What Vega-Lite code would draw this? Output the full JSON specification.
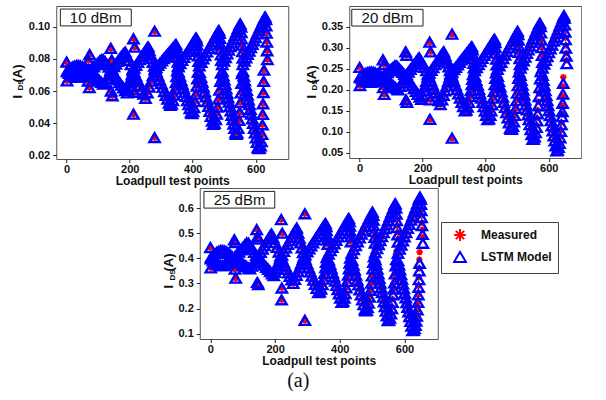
{
  "$schema": "https://vega.github.io/schema/vega-lite/v6.json",
  "background": "white",
  "padding": {"left": 10, "top": 5, "right": 0, "bottom": 0},
  "config": {
    "view": {"stroke": "#555", "strokeWidth": 1},
    "font": "Liberation Sans",
    "axis": {"labelFont": "Liberation Sans", "labelFontWeight": "bold", "labelFontSize": 11, "labelColor": "#111", "tickColor": "#222", "tickSize": 3.5, "domain": false, "grid": false, "titleFont": "Liberation Sans", "titleFontWeight": "bold", "titleColor": "#111", "titleFontSize": 12, "labelPadding": 1, "titlePadding": 1},
    "legend": {"orient": "none", "legendX": 385, "legendY": 216, "strokeColor": "#444", "strokeWidth": 1, "fillColor": "white", "padding": 6, "labelFont": "Liberation Sans", "labelFontWeight": "bold", "labelFontSize": 12, "labelColor": "#111", "symbolSize": 140, "symbolStrokeWidth": 2, "labelOffset": 14, "rowPadding": 2, "symbolOffset": 6}
  },
  "title": {"text": "(a)", "orient": "bottom", "anchor": "middle", "font": "Liberation Serif", "fontSize": 20, "fontWeight": "normal", "color": "#111", "offset": 4, "dx": 2},
  "datasets": {
    "p10": [
      {"x":0,"y":0.0780,"m":0.0780},{"x":1,"y":0.0663,"m":0.0663},
      {"x":2,"y":0.0725,"m":0.0725},{"x":8,"y":0.0734,"m":0.0734},{"x":14,"y":0.0743,"m":0.0743},{"x":20,"y":0.0750,"m":0.0750},{"x":26,"y":0.0755,"m":0.0755},{"x":32,"y":0.0758,"m":0.0758},{"x":38,"y":0.0758,"m":0.0758},{"x":44,"y":0.0755,"m":0.0755},{"x":50,"y":0.0751,"m":0.0751},{"x":56,"y":0.0744,"m":0.0744},{"x":62,"y":0.0736,"m":0.0736},{"x":68,"y":0.0727,"m":0.0727},
      {"x":2,"y":0.0719,"m":0.0719},{"x":8,"y":0.0710,"m":0.0710},{"x":14,"y":0.0701,"m":0.0701},{"x":20,"y":0.0694,"m":0.0694},{"x":26,"y":0.0689,"m":0.0689},{"x":32,"y":0.0686,"m":0.0686},{"x":38,"y":0.0686,"m":0.0686},{"x":44,"y":0.0689,"m":0.0689},{"x":50,"y":0.0693,"m":0.0693},{"x":56,"y":0.0700,"m":0.0700},{"x":62,"y":0.0708,"m":0.0708},{"x":68,"y":0.0717,"m":0.0717},
      {"x":69,"y":0.0790,"m":0.0790},{"x":73,"y":0.0827,"m":0.0827},{"x":68,"y":0.0662,"m":0.0662},{"x":72,"y":0.0621,"m":0.0621},
      {"x":74,"y":0.0729,"m":0.0729},{"x":80,"y":0.0740,"m":0.0740},{"x":86,"y":0.0751,"m":0.0751},{"x":92,"y":0.0762,"m":0.0762},{"x":98,"y":0.0773,"m":0.0773},{"x":104,"y":0.0784,"m":0.0784},{"x":110,"y":0.0794,"m":0.0794},{"x":116,"y":0.0796,"m":0.0796},{"x":122,"y":0.0781,"m":0.0781},{"x":128,"y":0.0766,"m":0.0766},{"x":134,"y":0.0748,"m":0.0748},{"x":140,"y":0.0731,"m":0.0731},
      {"x":74,"y":0.0719,"m":0.0719},{"x":80,"y":0.0708,"m":0.0708},{"x":86,"y":0.0698,"m":0.0698},{"x":92,"y":0.0687,"m":0.0687},{"x":98,"y":0.0676,"m":0.0676},{"x":104,"y":0.0665,"m":0.0665},{"x":110,"y":0.0654,"m":0.0654},{"x":116,"y":0.0643,"m":0.0643},{"x":122,"y":0.0652,"m":0.0652},{"x":128,"y":0.0675,"m":0.0675},{"x":134,"y":0.0698,"m":0.0698},{"x":140,"y":0.0724,"m":0.0724},
      {"x":140,"y":0.0866,"m":0.0866},{"x":143,"y":0.0792,"m":0.0792},{"x":141,"y":0.0600,"m":0.0600},{"x":145,"y":0.0570,"m":0.0570},
      {"x":144,"y":0.0736,"m":0.0736},{"x":150,"y":0.0752,"m":0.0752},{"x":156,"y":0.0768,"m":0.0768},{"x":162,"y":0.0784,"m":0.0784},{"x":168,"y":0.0800,"m":0.0800},{"x":174,"y":0.0816,"m":0.0816},{"x":180,"y":0.0832,"m":0.0832},{"x":186,"y":0.0842,"m":0.0842},{"x":192,"y":0.0816,"m":0.0816},{"x":198,"y":0.0790,"m":0.0790},{"x":204,"y":0.0764,"m":0.0764},{"x":210,"y":0.0737,"m":0.0737},
      {"x":144,"y":0.0720,"m":0.0720},{"x":150,"y":0.0703,"m":0.0703},{"x":156,"y":0.0686,"m":0.0686},{"x":162,"y":0.0670,"m":0.0670},{"x":168,"y":0.0653,"m":0.0653},{"x":174,"y":0.0636,"m":0.0636},{"x":180,"y":0.0620,"m":0.0620},{"x":186,"y":0.0603,"m":0.0603},{"x":192,"y":0.0588,"m":0.0588},{"x":195,"y":0.0605,"m":0.0605},{"x":198,"y":0.0630,"m":0.0630},{"x":201,"y":0.0652,"m":0.0652},{"x":204,"y":0.0676,"m":0.0676},{"x":207,"y":0.0700,"m":0.0700},{"x":210,"y":0.0725,"m":0.0725},
      {"x":212,"y":0.0925,"m":0.0925},{"x":216,"y":0.0873,"m":0.0873},{"x":214,"y":0.0592,"m":0.0592},{"x":212,"y":0.0456,"m":0.0456},
      {"x":214,"y":0.0742,"m":0.0742},{"x":220,"y":0.0760,"m":0.0760},{"x":226,"y":0.0778,"m":0.0778},{"x":232,"y":0.0796,"m":0.0796},{"x":238,"y":0.0814,"m":0.0814},{"x":244,"y":0.0833,"m":0.0833},{"x":250,"y":0.0851,"m":0.0851},{"x":256,"y":0.0869,"m":0.0869},{"x":259,"y":0.0874,"m":0.0874},{"x":262,"y":0.0851,"m":0.0851},{"x":266,"y":0.0827,"m":0.0827},{"x":270,"y":0.0803,"m":0.0803},{"x":274,"y":0.0779,"m":0.0779},{"x":278,"y":0.0755,"m":0.0755},{"x":281,"y":0.0740,"m":0.0740},
      {"x":214,"y":0.0719,"m":0.0719},{"x":220,"y":0.0692,"m":0.0692},{"x":226,"y":0.0664,"m":0.0664},{"x":232,"y":0.0636,"m":0.0636},{"x":238,"y":0.0608,"m":0.0608},{"x":244,"y":0.0581,"m":0.0581},{"x":250,"y":0.0555,"m":0.0555},{"x":256,"y":0.0589,"m":0.0589},{"x":262,"y":0.0625,"m":0.0625},{"x":268,"y":0.0661,"m":0.0661},{"x":274,"y":0.0696,"m":0.0696},{"x":280,"y":0.0732,"m":0.0732},
      {"x":279,"y":0.0972,"m":0.0972},{"x":279,"y":0.0310,"m":0.0310},
      {"x":284,"y":0.0745,"m":0.0745},{"x":290,"y":0.0759,"m":0.0759},{"x":296,"y":0.0773,"m":0.0773},{"x":302,"y":0.0787,"m":0.0787},{"x":308,"y":0.0801,"m":0.0801},{"x":314,"y":0.0815,"m":0.0815},{"x":320,"y":0.0829,"m":0.0829},{"x":326,"y":0.0843,"m":0.0843},{"x":332,"y":0.0857,"m":0.0857},{"x":338,"y":0.0871,"m":0.0871},{"x":344,"y":0.0885,"m":0.0885},{"x":347,"y":0.0889,"m":0.0889},
      {"x":349,"y":0.0868,"m":0.0868},{"x":350,"y":0.0840,"m":0.0840},{"x":351,"y":0.0810,"m":0.0810},{"x":353,"y":0.0780,"m":0.0780},{"x":354,"y":0.0752,"m":0.0752},
      {"x":285,"y":0.0719,"m":0.0719},{"x":290,"y":0.0694,"m":0.0694},{"x":295,"y":0.0670,"m":0.0670},{"x":300,"y":0.0646,"m":0.0646},{"x":305,"y":0.0622,"m":0.0622},{"x":310,"y":0.0597,"m":0.0597},{"x":315,"y":0.0573,"m":0.0573},{"x":320,"y":0.0549,"m":0.0549},{"x":325,"y":0.0525,"m":0.0525},{"x":329,"y":0.0511,"m":0.0511},
      {"x":333,"y":0.0518,"m":0.0518},{"x":337,"y":0.0540,"m":0.0540},{"x":341,"y":0.0575,"m":0.0575},{"x":344,"y":0.0612,"m":0.0612},{"x":347,"y":0.0652,"m":0.0652},{"x":349,"y":0.0690,"m":0.0690},{"x":351,"y":0.0725,"m":0.0725},
      {"x":354,"y":0.0752,"m":0.0752},{"x":360,"y":0.0771,"m":0.0771},{"x":366,"y":0.0790,"m":0.0790},{"x":372,"y":0.0809,"m":0.0809},{"x":378,"y":0.0828,"m":0.0828},{"x":384,"y":0.0847,"m":0.0847},{"x":390,"y":0.0866,"m":0.0866},{"x":396,"y":0.0885,"m":0.0885},{"x":402,"y":0.0904,"m":0.0904},{"x":408,"y":0.0924,"m":0.0924},{"x":411,"y":0.0930,"m":0.0930},
      {"x":413,"y":0.0912,"m":0.0912},{"x":414,"y":0.0885,"m":0.0885},{"x":416,"y":0.0852,"m":0.0852},{"x":417,"y":0.0818,"m":0.0818},{"x":419,"y":0.0784,"m":0.0784},
      {"x":355,"y":0.0717,"m":0.0717},{"x":359,"y":0.0692,"m":0.0692},{"x":363,"y":0.0667,"m":0.0667},{"x":367,"y":0.0642,"m":0.0642},{"x":371,"y":0.0617,"m":0.0617},{"x":375,"y":0.0591,"m":0.0591},{"x":379,"y":0.0566,"m":0.0566},{"x":383,"y":0.0541,"m":0.0541},{"x":387,"y":0.0516,"m":0.0516},{"x":391,"y":0.0491,"m":0.0491},{"x":395,"y":0.0466,"m":0.0466},{"x":398,"y":0.0460,"m":0.0460},
      {"x":401,"y":0.0472,"m":0.0472},{"x":404,"y":0.0497,"m":0.0497},{"x":407,"y":0.0535,"m":0.0535},{"x":410,"y":0.0580,"m":0.0580},{"x":413,"y":0.0630,"m":0.0630},{"x":415,"y":0.0675,"m":0.0675},{"x":417,"y":0.0718,"m":0.0718},
      {"x":421,"y":0.0757,"m":0.0757},{"x":427,"y":0.0778,"m":0.0778},{"x":433,"y":0.0800,"m":0.0800},{"x":439,"y":0.0821,"m":0.0821},{"x":445,"y":0.0843,"m":0.0843},{"x":451,"y":0.0865,"m":0.0865},{"x":457,"y":0.0886,"m":0.0886},{"x":463,"y":0.0908,"m":0.0908},{"x":469,"y":0.0929,"m":0.0929},{"x":475,"y":0.0951,"m":0.0951},{"x":481,"y":0.0972,"m":0.0972},{"x":483,"y":0.0976,"m":0.0976},
      {"x":485,"y":0.0958,"m":0.0958},{"x":486,"y":0.0928,"m":0.0928},{"x":487,"y":0.0895,"m":0.0895},{"x":488,"y":0.0860,"m":0.0860},{"x":490,"y":0.0825,"m":0.0825},{"x":491,"y":0.0790,"m":0.0790},
      {"x":422,"y":0.0716,"m":0.0716},{"x":426,"y":0.0685,"m":0.0685},{"x":430,"y":0.0655,"m":0.0655},{"x":434,"y":0.0625,"m":0.0625},{"x":438,"y":0.0594,"m":0.0594},{"x":442,"y":0.0564,"m":0.0564},{"x":446,"y":0.0534,"m":0.0534},{"x":450,"y":0.0504,"m":0.0504},{"x":454,"y":0.0473,"m":0.0473},{"x":458,"y":0.0443,"m":0.0443},{"x":462,"y":0.0413,"m":0.0413},{"x":465,"y":0.0392,"m":0.0392},
      {"x":469,"y":0.0398,"m":0.0398},{"x":473,"y":0.0422,"m":0.0422},{"x":476,"y":0.0457,"m":0.0457},{"x":479,"y":0.0500,"m":0.0500},{"x":482,"y":0.0550,"m":0.0550},{"x":485,"y":0.0605,"m":0.0605},{"x":488,"y":0.0660,"m":0.0660},{"x":490,"y":0.0712,"m":0.0712},
      {"x":494,"y":0.0764,"m":0.0764},{"x":499,"y":0.0786,"m":0.0786},{"x":504,"y":0.0808,"m":0.0808},{"x":509,"y":0.0831,"m":0.0831},{"x":514,"y":0.0854,"m":0.0854},{"x":519,"y":0.0877,"m":0.0877},{"x":524,"y":0.0899,"m":0.0899},{"x":529,"y":0.0922,"m":0.0922},{"x":534,"y":0.0944,"m":0.0944},{"x":539,"y":0.0967,"m":0.0967},{"x":544,"y":0.0990,"m":0.0990},{"x":549,"y":0.1012,"m":0.1012},{"x":551,"y":0.1017,"m":0.1017},
      {"x":553,"y":0.0998,"m":0.0998},{"x":554,"y":0.0963,"m":0.0963},{"x":555,"y":0.0925,"m":0.0925},{"x":556,"y":0.0885,"m":0.0885},{"x":558,"y":0.0845,"m":0.0845},{"x":559,"y":0.0805,"m":0.0805},
      {"x":494,"y":0.0723,"m":0.0723},{"x":497,"y":0.0695,"m":0.0695},{"x":500,"y":0.0668,"m":0.0668},{"x":503,"y":0.0641,"m":0.0641},{"x":506,"y":0.0613,"m":0.0613},{"x":509,"y":0.0586,"m":0.0586},{"x":512,"y":0.0559,"m":0.0559},{"x":515,"y":0.0531,"m":0.0531},{"x":518,"y":0.0504,"m":0.0504},{"x":521,"y":0.0476,"m":0.0476},{"x":524,"y":0.0449,"m":0.0449},{"x":527,"y":0.0422,"m":0.0422},{"x":530,"y":0.0394,"m":0.0394},{"x":533,"y":0.0367,"m":0.0367},{"x":536,"y":0.0340,"m":0.0340},{"x":538,"y":0.0331,"m":0.0331},
      {"x":541,"y":0.0338,"m":0.0338},{"x":544,"y":0.0368,"m":0.0368},{"x":547,"y":0.0418,"m":0.0418},{"x":549,"y":0.0468,"m":0.0468},{"x":551,"y":0.0528,"m":0.0528},{"x":553,"y":0.0588,"m":0.0588},{"x":555,"y":0.0648,"m":0.0648},{"x":557,"y":0.0708,"m":0.0708},
      {"x":559,"y":0.0765,"m":0.0765},{"x":564,"y":0.0786,"m":0.0786},{"x":569,"y":0.0807,"m":0.0807},{"x":574,"y":0.0828,"m":0.0828},{"x":579,"y":0.0849,"m":0.0849},{"x":584,"y":0.0870,"m":0.0870},{"x":589,"y":0.0891,"m":0.0891},{"x":594,"y":0.0912,"m":0.0912},{"x":599,"y":0.0933,"m":0.0933},{"x":604,"y":0.0955,"m":0.0955},{"x":609,"y":0.0976,"m":0.0976},{"x":614,"y":0.0997,"m":0.0997},{"x":619,"y":0.1018,"m":0.1018},{"x":624,"y":0.1039,"m":0.1039},{"x":628,"y":0.1055,"m":0.1055},{"x":630,"y":0.1060,"m":0.1060},
      {"x":632,"y":0.1045,"m":0.1045},{"x":633,"y":0.1005,"m":0.1005},{"x":634,"y":0.0960,"m":0.0960},{"x":635,"y":0.0905,"m":0.0905},{"x":636,"y":0.0850,"m":0.0850},{"x":637,"y":0.0795,"m":0.0795},
      {"x":559,"y":0.0722,"m":0.0722},{"x":562,"y":0.0693,"m":0.0693},{"x":565,"y":0.0663,"m":0.0663},{"x":568,"y":0.0634,"m":0.0634},{"x":571,"y":0.0604,"m":0.0604},{"x":574,"y":0.0575,"m":0.0575},{"x":577,"y":0.0545,"m":0.0545},{"x":580,"y":0.0516,"m":0.0516},{"x":583,"y":0.0486,"m":0.0486},{"x":586,"y":0.0457,"m":0.0457},{"x":589,"y":0.0427,"m":0.0427},{"x":592,"y":0.0398,"m":0.0398},{"x":595,"y":0.0368,"m":0.0368},{"x":598,"y":0.0339,"m":0.0339},{"x":601,"y":0.0309,"m":0.0309},{"x":604,"y":0.0280,"m":0.0280},{"x":607,"y":0.0250,"m":0.0250},{"x":609,"y":0.0241,"m":0.0241},
      {"x":612,"y":0.0244,"m":0.0244},{"x":615,"y":0.0258,"m":0.0258},{"x":618,"y":0.0285,"m":0.0285},{"x":620,"y":0.0330,"m":0.0330},{"x":621,"y":0.0390,"m":0.0390},{"x":622,"y":0.0455,"m":0.0455},{"x":623,"y":0.0520,"m":0.0520},{"x":624,"y":0.0590,"m":0.0590},{"x":625,"y":0.0660,"m":0.0660},{"x":626,"y":0.0730,"m":0.0730}
    ],
    "p20": [
      {"x":0,"y":0.253,"m":0.253},{"x":1,"y":0.210,"m":0.210},
      {"x":2,"y":0.2311,"m":0.2311},{"x":8,"y":0.2342,"m":0.2342},{"x":14,"y":0.2370,"m":0.2370},{"x":20,"y":0.2393,"m":0.2393},{"x":26,"y":0.2410,"m":0.2410},{"x":32,"y":0.2419,"m":0.2419},{"x":38,"y":0.2419,"m":0.2419},{"x":44,"y":0.2412,"m":0.2412},{"x":50,"y":0.2396,"m":0.2396},{"x":56,"y":0.2374,"m":0.2374},{"x":62,"y":0.2347,"m":0.2347},{"x":68,"y":0.2316,"m":0.2316},
      {"x":2,"y":0.2289,"m":0.2289},{"x":8,"y":0.2258,"m":0.2258},{"x":14,"y":0.2230,"m":0.2230},{"x":20,"y":0.2207,"m":0.2207},{"x":26,"y":0.2190,"m":0.2190},{"x":32,"y":0.2181,"m":0.2181},{"x":38,"y":0.2181,"m":0.2181},{"x":44,"y":0.2188,"m":0.2188},{"x":50,"y":0.2204,"m":0.2204},{"x":56,"y":0.2226,"m":0.2226},{"x":62,"y":0.2253,"m":0.2253},{"x":68,"y":0.2284,"m":0.2284},
      {"x":74,"y":0.271,"m":0.271},{"x":77,"y":0.260,"m":0.260},{"x":75,"y":0.205,"m":0.205},{"x":78,"y":0.189,"m":0.189},
      {"x":76,"y":0.2330,"m":0.2330},{"x":82,"y":0.2370,"m":0.2370},{"x":88,"y":0.2410,"m":0.2410},{"x":94,"y":0.2450,"m":0.2450},{"x":100,"y":0.2490,"m":0.2490},{"x":106,"y":0.2530,"m":0.2530},{"x":112,"y":0.2570,"m":0.2570},{"x":118,"y":0.2565,"m":0.2565},{"x":124,"y":0.2514,"m":0.2514},{"x":130,"y":0.2464,"m":0.2464},{"x":136,"y":0.2414,"m":0.2414},{"x":142,"y":0.2364,"m":0.2364},
      {"x":76,"y":0.2291,"m":0.2291},{"x":82,"y":0.2253,"m":0.2253},{"x":88,"y":0.2215,"m":0.2215},{"x":94,"y":0.2177,"m":0.2177},{"x":100,"y":0.2139,"m":0.2139},{"x":106,"y":0.2101,"m":0.2101},{"x":112,"y":0.2063,"m":0.2063},{"x":118,"y":0.2025,"m":0.2025},{"x":122,"y":0.2000,"m":0.2000},{"x":128,"y":0.2083,"m":0.2083},{"x":134,"y":0.2165,"m":0.2165},{"x":140,"y":0.2248,"m":0.2248},{"x":145,"y":0.2316,"m":0.2316},
      {"x":146,"y":0.290,"m":0.290},{"x":149,"y":0.282,"m":0.282},{"x":147,"y":0.176,"m":0.176},{"x":150,"y":0.170,"m":0.170},
      {"x":149,"y":0.2361,"m":0.2361},{"x":155,"y":0.2422,"m":0.2422},{"x":161,"y":0.2484,"m":0.2484},{"x":167,"y":0.2545,"m":0.2545},{"x":173,"y":0.2607,"m":0.2607},{"x":179,"y":0.2668,"m":0.2668},{"x":185,"y":0.2729,"m":0.2729},{"x":189,"y":0.2758,"m":0.2758},{"x":194,"y":0.2694,"m":0.2694},{"x":200,"y":0.2614,"m":0.2614},{"x":206,"y":0.2534,"m":0.2534},{"x":212,"y":0.2454,"m":0.2454},{"x":217,"y":0.2374,"m":0.2374},
      {"x":149,"y":0.2296,"m":0.2296},{"x":155,"y":0.2229,"m":0.2229},{"x":161,"y":0.2162,"m":0.2162},{"x":167,"y":0.2095,"m":0.2095},{"x":173,"y":0.2028,"m":0.2028},{"x":179,"y":0.1960,"m":0.1960},{"x":185,"y":0.1893,"m":0.1893},{"x":191,"y":0.1826,"m":0.1826},{"x":196,"y":0.1770,"m":0.1770},{"x":200,"y":0.1877,"m":0.1877},{"x":204,"y":0.1984,"m":0.1984},{"x":208,"y":0.2091,"m":0.2091},{"x":212,"y":0.2199,"m":0.2199},{"x":216,"y":0.2306,"m":0.2306},
      {"x":222,"y":0.313,"m":0.313},{"x":225,"y":0.290,"m":0.290},{"x":224,"y":0.176,"m":0.176},{"x":223,"y":0.130,"m":0.130},
      {"x":221,"y":0.2394,"m":0.2394},{"x":227,"y":0.2461,"m":0.2461},{"x":233,"y":0.2529,"m":0.2529},{"x":239,"y":0.2596,"m":0.2596},{"x":245,"y":0.2664,"m":0.2664},{"x":251,"y":0.2731,"m":0.2731},{"x":257,"y":0.2799,"m":0.2799},{"x":263,"y":0.2866,"m":0.2866},{"x":267,"y":0.2900,"m":0.2900},{"x":271,"y":0.2811,"m":0.2811},{"x":275,"y":0.2722,"m":0.2722},{"x":279,"y":0.2633,"m":0.2633},{"x":283,"y":0.2544,"m":0.2544},{"x":287,"y":0.2456,"m":0.2456},{"x":290,"y":0.2390,"m":0.2390},
      {"x":221,"y":0.2304,"m":0.2304},{"x":226,"y":0.2210,"m":0.2210},{"x":231,"y":0.2117,"m":0.2117},{"x":236,"y":0.2024,"m":0.2024},{"x":241,"y":0.1930,"m":0.1930},{"x":246,"y":0.1837,"m":0.1837},{"x":251,"y":0.1743,"m":0.1743},{"x":256,"y":0.1650,"m":0.1650},{"x":261,"y":0.1759,"m":0.1759},{"x":266,"y":0.1868,"m":0.1868},{"x":271,"y":0.1977,"m":0.1977},{"x":276,"y":0.2086,"m":0.2086},{"x":281,"y":0.2195,"m":0.2195},{"x":286,"y":0.2304,"m":0.2304},{"x":289,"y":0.2369,"m":0.2369},
      {"x":293,"y":0.332,"m":0.332},{"x":293,"y":0.085,"m":0.085},
      {"x":293,"y":0.2419,"m":0.2419},{"x":299,"y":0.2477,"m":0.2477},{"x":305,"y":0.2535,"m":0.2535},{"x":311,"y":0.2593,"m":0.2593},{"x":317,"y":0.2651,"m":0.2651},{"x":323,"y":0.2710,"m":0.2710},{"x":329,"y":0.2768,"m":0.2768},{"x":335,"y":0.2826,"m":0.2826},{"x":341,"y":0.2884,"m":0.2884},{"x":347,"y":0.2942,"m":0.2942},{"x":353,"y":0.3000,"m":0.3000},{"x":356,"y":0.3020,"m":0.3020},
      {"x":358,"y":0.2950,"m":0.2950},{"x":359,"y":0.2850,"m":0.2850},{"x":360,"y":0.2740,"m":0.2740},{"x":362,"y":0.2630,"m":0.2630},{"x":363,"y":0.2520,"m":0.2520},
      {"x":294,"y":0.2309,"m":0.2309},{"x":299,"y":0.2208,"m":0.2208},{"x":304,"y":0.2107,"m":0.2107},{"x":309,"y":0.2006,"m":0.2006},{"x":314,"y":0.1905,"m":0.1905},{"x":319,"y":0.1803,"m":0.1803},{"x":324,"y":0.1702,"m":0.1702},{"x":329,"y":0.1601,"m":0.1601},{"x":334,"y":0.1500,"m":0.1500},
      {"x":338,"y":0.1520,"m":0.1520},{"x":342,"y":0.1590,"m":0.1590},{"x":346,"y":0.1700,"m":0.1700},{"x":350,"y":0.1840,"m":0.1840},{"x":353,"y":0.1980,"m":0.1980},{"x":356,"y":0.2120,"m":0.2120},{"x":358,"y":0.2250,"m":0.2250},{"x":360,"y":0.2360,"m":0.2360},
      {"x":365,"y":0.2456,"m":0.2456},{"x":371,"y":0.2528,"m":0.2528},{"x":377,"y":0.2600,"m":0.2600},{"x":383,"y":0.2672,"m":0.2672},{"x":389,"y":0.2744,"m":0.2744},{"x":395,"y":0.2816,"m":0.2816},{"x":401,"y":0.2888,"m":0.2888},{"x":407,"y":0.2960,"m":0.2960},{"x":413,"y":0.3032,"m":0.3032},{"x":419,"y":0.3104,"m":0.3104},{"x":425,"y":0.3176,"m":0.3176},{"x":428,"y":0.3200,"m":0.3200},
      {"x":430,"y":0.3120,"m":0.3120},{"x":431,"y":0.3000,"m":0.3000},{"x":432,"y":0.2870,"m":0.2870},{"x":434,"y":0.2730,"m":0.2730},{"x":435,"y":0.2590,"m":0.2590},
      {"x":366,"y":0.2317,"m":0.2317},{"x":370,"y":0.2215,"m":0.2215},{"x":374,"y":0.2112,"m":0.2112},{"x":378,"y":0.2009,"m":0.2009},{"x":382,"y":0.1907,"m":0.1907},{"x":386,"y":0.1804,"m":0.1804},{"x":390,"y":0.1701,"m":0.1701},{"x":394,"y":0.1598,"m":0.1598},{"x":398,"y":0.1496,"m":0.1496},{"x":402,"y":0.1393,"m":0.1393},{"x":406,"y":0.1290,"m":0.1290},
      {"x":410,"y":0.1310,"m":0.1310},{"x":414,"y":0.1390,"m":0.1390},{"x":417,"y":0.1500,"m":0.1500},{"x":420,"y":0.1640,"m":0.1640},{"x":423,"y":0.1800,"m":0.1800},{"x":426,"y":0.1960,"m":0.1960},{"x":429,"y":0.2120,"m":0.2120},{"x":431,"y":0.2270,"m":0.2270},{"x":433,"y":0.2400,"m":0.2400},
      {"x":437,"y":0.2483,"m":0.2483},{"x":443,"y":0.2568,"m":0.2568},{"x":449,"y":0.2653,"m":0.2653},{"x":455,"y":0.2738,"m":0.2738},{"x":461,"y":0.2823,"m":0.2823},{"x":467,"y":0.2908,"m":0.2908},{"x":473,"y":0.2993,"m":0.2993},{"x":479,"y":0.3078,"m":0.3078},{"x":485,"y":0.3163,"m":0.3163},{"x":491,"y":0.3248,"m":0.3248},{"x":497,"y":0.3333,"m":0.3333},{"x":501,"y":0.3390,"m":0.3390},
      {"x":503,"y":0.3310,"m":0.3310},{"x":504,"y":0.3180,"m":0.3180},{"x":505,"y":0.3040,"m":0.3040},{"x":506,"y":0.2890,"m":0.2890},{"x":508,"y":0.2740,"m":0.2740},{"x":509,"y":0.2600,"m":0.2600},
      {"x":438,"y":0.2317,"m":0.2317},{"x":442,"y":0.2195,"m":0.2195},{"x":446,"y":0.2072,"m":0.2072},{"x":450,"y":0.1949,"m":0.1949},{"x":454,"y":0.1827,"m":0.1827},{"x":458,"y":0.1704,"m":0.1704},{"x":462,"y":0.1581,"m":0.1581},{"x":466,"y":0.1459,"m":0.1459},{"x":470,"y":0.1336,"m":0.1336},{"x":474,"y":0.1213,"m":0.1213},{"x":478,"y":0.1091,"m":0.1091},{"x":480,"y":0.1060,"m":0.1060},
      {"x":483,"y":0.1070,"m":0.1070},{"x":486,"y":0.1130,"m":0.1130},{"x":489,"y":0.1240,"m":0.1240},{"x":492,"y":0.1390,"m":0.1390},{"x":495,"y":0.1560,"m":0.1560},{"x":498,"y":0.1740,"m":0.1740},{"x":500,"y":0.1920,"m":0.1920},{"x":502,"y":0.2100,"m":0.2100},{"x":504,"y":0.2270,"m":0.2270},{"x":506,"y":0.2420,"m":0.2420},
      {"x":510,"y":0.2513,"m":0.2513},{"x":515,"y":0.2600,"m":0.2600},{"x":520,"y":0.2688,"m":0.2688},{"x":525,"y":0.2775,"m":0.2775},{"x":530,"y":0.2863,"m":0.2863},{"x":535,"y":0.2950,"m":0.2950},{"x":540,"y":0.3038,"m":0.3038},{"x":545,"y":0.3125,"m":0.3125},{"x":550,"y":0.3213,"m":0.3213},{"x":555,"y":0.3300,"m":0.3300},{"x":560,"y":0.3388,"m":0.3388},{"x":565,"y":0.3475,"m":0.3475},{"x":570,"y":0.3563,"m":0.3563},{"x":572,"y":0.3580,"m":0.3580},
      {"x":574,"y":0.3500,"m":0.3500},{"x":575,"y":0.3350,"m":0.3350},{"x":576,"y":0.3180,"m":0.3180},{"x":577,"y":0.3000,"m":0.3000},{"x":579,"y":0.2820,"m":0.2820},{"x":580,"y":0.2650,"m":0.2650},
      {"x":510,"y":0.2343,"m":0.2343},{"x":513,"y":0.2226,"m":0.2226},{"x":516,"y":0.2109,"m":0.2109},{"x":519,"y":0.1991,"m":0.1991},{"x":522,"y":0.1874,"m":0.1874},{"x":525,"y":0.1757,"m":0.1757},{"x":528,"y":0.1640,"m":0.1640},{"x":531,"y":0.1523,"m":0.1523},{"x":534,"y":0.1406,"m":0.1406},{"x":537,"y":0.1289,"m":0.1289},{"x":540,"y":0.1171,"m":0.1171},{"x":543,"y":0.1054,"m":0.1054},{"x":546,"y":0.0937,"m":0.0937},{"x":549,"y":0.0820,"m":0.0820},
      {"x":552,"y":0.0830,"m":0.0830},{"x":555,"y":0.0890,"m":0.0880},{"x":558,"y":0.1000,"m":0.0980},{"x":561,"y":0.1150,"m":0.1110},{"x":563,"y":0.1330,"m":0.1260},{"x":565,"y":0.1520,"m":0.1430},{"x":567,"y":0.1720,"m":0.1620},{"x":569,"y":0.1920,"m":0.1840},{"x":571,"y":0.2110,"m":0.2050},{"x":573,"y":0.2290,"m":0.2260},{"x":575,"y":0.2430,"m":0.2430},
      {"x":580,"y":0.2515,"m":0.2515},{"x":585,"y":0.2607,"m":0.2607},{"x":590,"y":0.2698,"m":0.2698},{"x":595,"y":0.2790,"m":0.2790},{"x":600,"y":0.2881,"m":0.2881},{"x":605,"y":0.2973,"m":0.2973},{"x":610,"y":0.3064,"m":0.3064},{"x":615,"y":0.3156,"m":0.3156},{"x":620,"y":0.3247,"m":0.3247},{"x":625,"y":0.3339,"m":0.3339},{"x":630,"y":0.3430,"m":0.3430},{"x":635,"y":0.3522,"m":0.3522},{"x":640,"y":0.3613,"m":0.3613},{"x":645,"y":0.3705,"m":0.3705},{"x":648,"y":0.3760,"m":0.3760},
      {"x":650,"y":0.3700,"m":0.3700},{"x":651,"y":0.3560,"m":0.3540},{"x":652,"y":0.3400,"m":0.3370},{"x":653,"y":0.3230,"m":0.3190},{"x":654,"y":0.3050,"m":0.2990},{"x":656,"y":0.2870,"m":0.2800},{"x":657,"y":0.2700,"m":0.2620},
      {"x":580,"y":0.2341,"m":0.2341},{"x":583,"y":0.2221,"m":0.2221},{"x":586,"y":0.2102,"m":0.2102},{"x":589,"y":0.1982,"m":0.1982},{"x":592,"y":0.1863,"m":0.1863},{"x":595,"y":0.1744,"m":0.1744},{"x":598,"y":0.1624,"m":0.1624},{"x":601,"y":0.1505,"m":0.1505},{"x":604,"y":0.1385,"m":0.1385},{"x":607,"y":0.1266,"m":0.1266},{"x":610,"y":0.1146,"m":0.1146},{"x":613,"y":0.1027,"m":0.1027},{"x":616,"y":0.0907,"m":0.0907},{"x":619,"y":0.0788,"m":0.0788},{"x":622,"y":0.0669,"m":0.0669},{"x":625,"y":0.0550,"m":0.0550},
      {"x":628,"y":0.0570,"m":0.0570},{"x":631,"y":0.0630,"m":0.0630},{"x":634,"y":0.0740,"m":0.0730},{"x":636,"y":0.0880,"m":0.0860},{"x":638,"y":0.1040,"m":0.1010},{"x":640,"y":0.1220,"m":0.1170},{"x":642,"y":0.1420,"m":0.1360},{"x":643,"y":0.1630,"m":0.1480},{"x":644,"y":0.1850,"m":0.1680},{"x":645,"y":0.2080,"m":0.1900},{"x":646,"y":0.2300,"m":0.2150}
    ],
    "p25": [
      {"x":0,"y":0.443,"m":0.443},{"x":1,"y":0.362,"m":0.362},
      {"x":2,"y":0.4036,"m":0.4036},{"x":8,"y":0.4114,"m":0.4114},{"x":14,"y":0.4184,"m":0.4184},{"x":20,"y":0.4242,"m":0.4242},{"x":26,"y":0.4284,"m":0.4284},{"x":32,"y":0.4309,"m":0.4309},{"x":38,"y":0.4308,"m":0.4308},{"x":44,"y":0.4289,"m":0.4289},{"x":50,"y":0.4250,"m":0.4250},{"x":56,"y":0.4195,"m":0.4195},{"x":62,"y":0.4127,"m":0.4127},{"x":68,"y":0.4049,"m":0.4049},
      {"x":2,"y":0.3984,"m":0.3984},{"x":8,"y":0.3906,"m":0.3906},{"x":14,"y":0.3836,"m":0.3836},{"x":20,"y":0.3778,"m":0.3778},{"x":26,"y":0.3736,"m":0.3736},{"x":32,"y":0.3711,"m":0.3711},{"x":38,"y":0.3712,"m":0.3712},{"x":44,"y":0.3731,"m":0.3731},{"x":50,"y":0.3770,"m":0.3770},{"x":56,"y":0.3825,"m":0.3825},{"x":62,"y":0.3893,"m":0.3893},{"x":68,"y":0.3971,"m":0.3971},
      {"x":74,"y":0.474,"m":0.474},{"x":77,"y":0.463,"m":0.463},{"x":76,"y":0.357,"m":0.357},{"x":78,"y":0.321,"m":0.321},
      {"x":76,"y":0.4066,"m":0.4066},{"x":82,"y":0.4157,"m":0.4157},{"x":88,"y":0.4249,"m":0.4249},{"x":94,"y":0.4340,"m":0.4340},{"x":100,"y":0.4431,"m":0.4431},{"x":106,"y":0.4523,"m":0.4523},{"x":112,"y":0.4614,"m":0.4614},{"x":118,"y":0.4600,"m":0.4600},{"x":124,"y":0.4480,"m":0.4480},{"x":130,"y":0.4360,"m":0.4360},{"x":136,"y":0.4240,"m":0.4240},{"x":142,"y":0.4120,"m":0.4120},
      {"x":76,"y":0.3993,"m":0.3993},{"x":82,"y":0.3939,"m":0.3939},{"x":88,"y":0.3885,"m":0.3885},{"x":94,"y":0.3831,"m":0.3831},{"x":100,"y":0.3778,"m":0.3778},{"x":106,"y":0.3724,"m":0.3724},{"x":112,"y":0.3670,"m":0.3670},{"x":118,"y":0.3616,"m":0.3616},{"x":122,"y":0.3580,"m":0.3580},{"x":128,"y":0.3695,"m":0.3695},{"x":134,"y":0.3810,"m":0.3810},{"x":140,"y":0.3925,"m":0.3925},{"x":145,"y":0.4021,"m":0.4021},
      {"x":143,"y":0.514,"m":0.514},{"x":146,"y":0.487,"m":0.487},{"x":148,"y":0.477,"m":0.477},{"x":145,"y":0.304,"m":0.304},{"x":148,"y":0.295,"m":0.295},
      {"x":149,"y":0.4106,"m":0.4106},{"x":155,"y":0.4239,"m":0.4239},{"x":161,"y":0.4372,"m":0.4372},{"x":167,"y":0.4505,"m":0.4505},{"x":173,"y":0.4638,"m":0.4638},{"x":179,"y":0.4771,"m":0.4771},{"x":185,"y":0.4903,"m":0.4903},{"x":189,"y":0.4970,"m":0.4970},{"x":194,"y":0.4813,"m":0.4813},{"x":200,"y":0.4625,"m":0.4625},{"x":206,"y":0.4436,"m":0.4436},{"x":212,"y":0.4248,"m":0.4248},{"x":217,"y":0.4091,"m":0.4091},
      {"x":149,"y":0.3996,"m":0.3996},{"x":155,"y":0.3908,"m":0.3908},{"x":161,"y":0.3821,"m":0.3821},{"x":167,"y":0.3733,"m":0.3733},{"x":173,"y":0.3646,"m":0.3646},{"x":179,"y":0.3558,"m":0.3558},{"x":185,"y":0.3471,"m":0.3471},{"x":191,"y":0.3383,"m":0.3383},{"x":196,"y":0.3310,"m":0.3310},{"x":200,"y":0.3446,"m":0.3446},{"x":204,"y":0.3583,"m":0.3583},{"x":208,"y":0.3719,"m":0.3719},{"x":212,"y":0.3856,"m":0.3856},{"x":216,"y":0.3992,"m":0.3992},
      {"x":219,"y":0.554,"m":0.554},{"x":222,"y":0.500,"m":0.500},{"x":221,"y":0.282,"m":0.282},{"x":220,"y":0.235,"m":0.235},
      {"x":221,"y":0.4131,"m":0.4131},{"x":227,"y":0.4274,"m":0.4274},{"x":233,"y":0.4416,"m":0.4416},{"x":239,"y":0.4559,"m":0.4559},{"x":245,"y":0.4701,"m":0.4701},{"x":251,"y":0.4844,"m":0.4844},{"x":257,"y":0.4986,"m":0.4986},{"x":263,"y":0.5129,"m":0.5129},{"x":267,"y":0.5200,"m":0.5200},{"x":271,"y":0.5005,"m":0.5005},{"x":275,"y":0.4810,"m":0.4810},{"x":279,"y":0.4615,"m":0.4615},{"x":283,"y":0.4421,"m":0.4421},{"x":287,"y":0.4226,"m":0.4226},{"x":290,"y":0.4080,"m":0.4080},
      {"x":221,"y":0.3976,"m":0.3976},{"x":226,"y":0.3837,"m":0.3837},{"x":231,"y":0.3697,"m":0.3697},{"x":236,"y":0.3558,"m":0.3558},{"x":241,"y":0.3418,"m":0.3418},{"x":246,"y":0.3279,"m":0.3279},{"x":251,"y":0.3139,"m":0.3139},{"x":256,"y":0.3000,"m":0.3000},{"x":261,"y":0.3159,"m":0.3159},{"x":266,"y":0.3318,"m":0.3318},{"x":271,"y":0.3476,"m":0.3476},{"x":276,"y":0.3635,"m":0.3635},{"x":281,"y":0.3794,"m":0.3794},{"x":286,"y":0.3953,"m":0.3953},{"x":289,"y":0.4049,"m":0.4049},
      {"x":292,"y":0.577,"m":0.577},{"x":292,"y":0.153,"m":0.153},
      {"x":293,"y":0.4140,"m":0.4140},{"x":299,"y":0.4260,"m":0.4260},{"x":305,"y":0.4380,"m":0.4380},{"x":311,"y":0.4500,"m":0.4500},{"x":317,"y":0.4620,"m":0.4620},{"x":323,"y":0.4740,"m":0.4740},{"x":329,"y":0.4860,"m":0.4860},{"x":335,"y":0.4980,"m":0.4980},{"x":341,"y":0.5100,"m":0.5100},{"x":347,"y":0.5220,"m":0.5220},{"x":353,"y":0.5340,"m":0.5340},{"x":356,"y":0.5380,"m":0.5380},
      {"x":358,"y":0.5260,"m":0.5260},{"x":359,"y":0.5100,"m":0.5100},{"x":360,"y":0.4920,"m":0.4920},{"x":362,"y":0.4740,"m":0.4740},{"x":363,"y":0.4560,"m":0.4560},
      {"x":294,"y":0.3949,"m":0.3949},{"x":299,"y":0.3785,"m":0.3785},{"x":304,"y":0.3621,"m":0.3621},{"x":309,"y":0.3458,"m":0.3458},{"x":314,"y":0.3294,"m":0.3294},{"x":319,"y":0.3131,"m":0.3131},{"x":324,"y":0.2967,"m":0.2967},{"x":329,"y":0.2804,"m":0.2804},{"x":334,"y":0.2640,"m":0.2640},
      {"x":338,"y":0.2670,"m":0.2670},{"x":342,"y":0.2780,"m":0.2780},{"x":346,"y":0.2950,"m":0.2950},{"x":350,"y":0.3170,"m":0.3170},{"x":353,"y":0.3400,"m":0.3400},{"x":356,"y":0.3630,"m":0.3630},{"x":358,"y":0.3840,"m":0.3840},{"x":360,"y":0.4030,"m":0.4030},
      {"x":365,"y":0.4168,"m":0.4168},{"x":371,"y":0.4305,"m":0.4305},{"x":377,"y":0.4442,"m":0.4442},{"x":383,"y":0.4578,"m":0.4578},{"x":389,"y":0.4715,"m":0.4715},{"x":395,"y":0.4851,"m":0.4851},{"x":401,"y":0.4988,"m":0.4988},{"x":407,"y":0.5125,"m":0.5125},{"x":413,"y":0.5261,"m":0.5261},{"x":419,"y":0.5398,"m":0.5398},{"x":425,"y":0.5535,"m":0.5535},{"x":428,"y":0.5580,"m":0.5580},
      {"x":430,"y":0.5460,"m":0.5460},{"x":431,"y":0.5280,"m":0.5280},{"x":432,"y":0.5080,"m":0.5080},{"x":434,"y":0.4870,"m":0.4870},{"x":435,"y":0.4660,"m":0.4660},
      {"x":366,"y":0.3932,"m":0.3932},{"x":370,"y":0.3764,"m":0.3764},{"x":374,"y":0.3595,"m":0.3595},{"x":378,"y":0.3427,"m":0.3427},{"x":382,"y":0.3259,"m":0.3259},{"x":386,"y":0.3091,"m":0.3091},{"x":390,"y":0.2923,"m":0.2923},{"x":394,"y":0.2755,"m":0.2755},{"x":398,"y":0.2586,"m":0.2586},{"x":402,"y":0.2418,"m":0.2418},{"x":406,"y":0.2250,"m":0.2250},
      {"x":410,"y":0.2290,"m":0.2290},{"x":414,"y":0.2420,"m":0.2420},{"x":417,"y":0.2600,"m":0.2600},{"x":420,"y":0.2830,"m":0.2830},{"x":423,"y":0.3080,"m":0.3080},{"x":426,"y":0.3330,"m":0.3330},{"x":429,"y":0.3580,"m":0.3580},{"x":431,"y":0.3810,"m":0.3810},{"x":433,"y":0.4010,"m":0.4010},
      {"x":437,"y":0.4197,"m":0.4197},{"x":443,"y":0.4351,"m":0.4351},{"x":449,"y":0.4505,"m":0.4505},{"x":455,"y":0.4659,"m":0.4659},{"x":461,"y":0.4813,"m":0.4813},{"x":467,"y":0.4967,"m":0.4967},{"x":473,"y":0.5121,"m":0.5121},{"x":479,"y":0.5275,"m":0.5275},{"x":485,"y":0.5429,"m":0.5429},{"x":491,"y":0.5583,"m":0.5583},{"x":497,"y":0.5737,"m":0.5737},{"x":501,"y":0.5840,"m":0.5840},
      {"x":503,"y":0.5710,"m":0.5710},{"x":504,"y":0.5520,"m":0.5520},{"x":505,"y":0.5300,"m":0.5300},{"x":506,"y":0.5070,"m":0.5070},{"x":508,"y":0.4840,"m":0.4840},{"x":509,"y":0.4610,"m":0.4610},
      {"x":438,"y":0.3924,"m":0.3924},{"x":442,"y":0.3728,"m":0.3728},{"x":446,"y":0.3531,"m":0.3531},{"x":450,"y":0.3335,"m":0.3335},{"x":454,"y":0.3138,"m":0.3138},{"x":458,"y":0.2942,"m":0.2942},{"x":462,"y":0.2745,"m":0.2745},{"x":466,"y":0.2549,"m":0.2549},{"x":470,"y":0.2352,"m":0.2352},{"x":474,"y":0.2156,"m":0.2156},{"x":478,"y":0.1959,"m":0.1959},{"x":480,"y":0.1910,"m":0.1910},
      {"x":483,"y":0.1930,"m":0.1930},{"x":486,"y":0.2040,"m":0.2040},{"x":489,"y":0.2220,"m":0.2220},{"x":492,"y":0.2460,"m":0.2460},{"x":495,"y":0.2730,"m":0.2730},{"x":498,"y":0.3010,"m":0.3010},{"x":500,"y":0.3300,"m":0.3300},{"x":502,"y":0.3580,"m":0.3580},{"x":504,"y":0.3840,"m":0.3840},{"x":506,"y":0.4060,"m":0.4060},
      {"x":510,"y":0.4226,"m":0.4226},{"x":515,"y":0.4385,"m":0.4385},{"x":520,"y":0.4545,"m":0.4545},{"x":525,"y":0.4704,"m":0.4704},{"x":530,"y":0.4864,"m":0.4864},{"x":535,"y":0.5023,"m":0.5023},{"x":540,"y":0.5183,"m":0.5183},{"x":545,"y":0.5342,"m":0.5342},{"x":550,"y":0.5501,"m":0.5501},{"x":555,"y":0.5661,"m":0.5661},{"x":560,"y":0.5820,"m":0.5820},{"x":565,"y":0.5980,"m":0.5980},{"x":570,"y":0.6139,"m":0.6139},{"x":572,"y":0.6170,"m":0.6170},
      {"x":574,"y":0.6020,"m":0.6000},{"x":575,"y":0.5800,"m":0.5760},{"x":576,"y":0.5560,"m":0.5500},{"x":577,"y":0.5300,"m":0.5220},{"x":579,"y":0.5040,"m":0.4930},{"x":580,"y":0.4780,"m":0.4650},
      {"x":510,"y":0.3944,"m":0.3944},{"x":513,"y":0.3758,"m":0.3758},{"x":516,"y":0.3572,"m":0.3572},{"x":519,"y":0.3386,"m":0.3386},{"x":522,"y":0.3199,"m":0.3199},{"x":525,"y":0.3013,"m":0.3013},{"x":528,"y":0.2827,"m":0.2827},{"x":531,"y":0.2641,"m":0.2641},{"x":534,"y":0.2455,"m":0.2455},{"x":537,"y":0.2269,"m":0.2269},{"x":540,"y":0.2083,"m":0.2083},{"x":543,"y":0.1896,"m":0.1896},{"x":546,"y":0.1710,"m":0.1710},{"x":549,"y":0.1520,"m":0.1520},
      {"x":552,"y":0.1540,"m":0.1540},{"x":555,"y":0.1640,"m":0.1620},{"x":558,"y":0.1820,"m":0.1790},{"x":561,"y":0.2060,"m":0.2000},{"x":563,"y":0.2380,"m":0.2250},{"x":565,"y":0.2720,"m":0.2550},{"x":567,"y":0.3020,"m":0.2780},{"x":569,"y":0.3350,"m":0.3020},{"x":571,"y":0.3680,"m":0.3380},{"x":573,"y":0.4000,"m":0.3700},{"x":575,"y":0.4280,"m":0.3950},
      {"x":580,"y":0.4199,"m":0.4199},{"x":585,"y":0.4364,"m":0.4364},{"x":590,"y":0.4529,"m":0.4529},{"x":595,"y":0.4694,"m":0.4694},{"x":600,"y":0.4859,"m":0.4859},{"x":605,"y":0.5024,"m":0.5024},{"x":610,"y":0.5189,"m":0.5189},{"x":615,"y":0.5354,"m":0.5354},{"x":620,"y":0.5519,"m":0.5519},{"x":625,"y":0.5684,"m":0.5684},{"x":630,"y":0.5849,"m":0.5849},{"x":635,"y":0.6014,"m":0.6014},{"x":640,"y":0.6179,"m":0.6179},{"x":645,"y":0.6344,"m":0.6344},{"x":648,"y":0.6440,"m":0.6440},
      {"x":650,"y":0.6350,"m":0.6350},{"x":651,"y":0.6170,"m":0.6150},{"x":652,"y":0.5950,"m":0.5900},{"x":653,"y":0.5700,"m":0.5620},{"x":654,"y":0.5420,"m":0.5300},{"x":656,"y":0.5140,"m":0.4950},{"x":657,"y":0.4850,"m":0.4600},
      {"x":580,"y":0.3914,"m":0.3914},{"x":583,"y":0.3728,"m":0.3728},{"x":586,"y":0.3542,"m":0.3542},{"x":589,"y":0.3355,"m":0.3355},{"x":592,"y":0.3169,"m":0.3169},{"x":595,"y":0.2983,"m":0.2983},{"x":598,"y":0.2797,"m":0.2797},{"x":601,"y":0.2611,"m":0.2611},{"x":604,"y":0.2424,"m":0.2424},{"x":607,"y":0.2238,"m":0.2238},{"x":610,"y":0.2052,"m":0.2052},{"x":613,"y":0.1866,"m":0.1866},{"x":616,"y":0.1679,"m":0.1679},{"x":619,"y":0.1493,"m":0.1493},{"x":622,"y":0.1307,"m":0.1307},{"x":625,"y":0.1120,"m":0.1120},
      {"x":628,"y":0.1140,"m":0.1130},{"x":631,"y":0.1230,"m":0.1200},{"x":634,"y":0.1400,"m":0.1330},{"x":636,"y":0.1620,"m":0.1500},{"x":638,"y":0.1890,"m":0.1700},{"x":640,"y":0.2200,"m":0.1950},{"x":642,"y":0.2550,"m":0.2250},{"x":643,"y":0.2900,"m":0.2550},{"x":644,"y":0.3250,"m":0.2850},{"x":645,"y":0.3600,"m":0.3150},{"x":646,"y":0.3950,"m":0.3500},{"x":647,"y":0.4250,"m":0.3800}
    ]
  },
  "vconcat": [
    {
      "hconcat": [
        {
          "width": 232, "height": 153,
          "data": {"name": "p10"},
          "resolve": {"scale": {"y": "independent"}},
          "layer": [
            {
              "mark": {"type": "point", "filled": false, "size": 42, "strokeWidth": 1.7, "opacity": 1},
              "encoding": {
                "x": {"field": "x", "type": "quantitative", "scale": {"domain": [-33, 703], "nice": false, "zero": false}, "axis": {"title": "Loadpull test points", "values": [0, 100, 200, 300, 400, 500, 600, 700]}},
                "y": {"field": "y", "type": "quantitative", "scale": {"domain": [0.0177, 0.1129], "nice": false, "zero": false}, "axis": {"orient": "left", "title": "DS", "labels": false, "ticks": false, "titleFontSize": 8, "titleAngle": 270, "titleAlign": "left", "titleBaseline": "alphabetic", "titleX": -33.5, "titleY": 84}},
                "color": {"datum": "Measured", "type": "nominal", "scale": {"domain": ["Measured", "LSTM Model"], "range": ["#ff0000", "#0000ff"]}, "legend": {"title": null, "strokeColor": "#444", "fillColor": "white"}},
                "shape": {"datum": "Measured", "type": "nominal", "scale": {"domain": ["Measured", "LSTM Model"], "range": ["M0,-1L0,1M-1,0L1,0M-0.7,-0.7L0.7,0.7M-0.7,0.7L0.7,-0.7", "triangle-up"]}, "legend": {"title": null, "strokeColor": "#444", "fillColor": "white"}}
              }
            },
            {
              "mark": {"type": "point", "filled": false, "size": 105, "strokeWidth": 2.4, "opacity": 1},
              "encoding": {
                "x": {"field": "x", "type": "quantitative", "scale": {"domain": [-33, 703], "nice": false, "zero": false}},
                "y": {"field": "m", "type": "quantitative", "scale": {"domain": [0.0177, 0.1129], "nice": false, "zero": false}, "axis": {"orient": "left", "title": "I", "values": [0.02, 0.04, 0.06, 0.08, 0.1], "format": ".2f", "labelPadding": 3, "titleFontSize": 13, "titleAngle": 270, "titleAlign": "left", "titleBaseline": "alphabetic", "titleX": -35, "titleY": 92}},
                "color": {"datum": "LSTM Model", "type": "nominal"},
                "shape": {"datum": "LSTM Model", "type": "nominal"}
              }
            },
            {
              "data": {"values": [{}]},
              "mark": {"type": "rect", "fill": "white", "stroke": "#222", "strokeWidth": 1},
              "encoding": {
                "x": {"datum": -20, "type": "quantitative", "scale": {"domain": [-33, 703], "nice": false, "zero": false}},
                "x2": {"datum": 205},
                "y": {"datum": 0.1110, "type": "quantitative", "scale": {"domain": [0.0177, 0.1129], "nice": false, "zero": false}, "axis": {"orient": "left", "title": "(A)", "labels": false, "ticks": false, "titleFontSize": 13, "titleAngle": 270, "titleAlign": "left", "titleBaseline": "alphabetic", "titleX": -35, "titleY": 76}},
                "y2": {"datum": 0.1005}
              }
            },
            {
              "data": {"values": [{}]},
              "mark": {"type": "text", "font": "Liberation Sans", "fontSize": 15, "color": "#111", "align": "center", "baseline": "middle"},
              "encoding": {
                "x": {"datum": 92, "type": "quantitative", "scale": {"domain": [-33, 703], "nice": false, "zero": false}},
                "y": {"datum": 0.1057, "type": "quantitative", "scale": {"domain": [0.0177, 0.1129], "nice": false, "zero": false}, "axis": null},
                "text": {"value": "10 dBm"}
              }
            }
          ]
        },
        {
          "width": 232, "height": 152,
          "data": {"name": "p20"},
          "resolve": {"scale": {"y": "independent"}},
          "layer": [
            {
              "mark": {"type": "point", "filled": false, "size": 42, "strokeWidth": 1.7, "opacity": 1},
              "encoding": {
                "x": {"field": "x", "type": "quantitative", "scale": {"domain": [-33, 703], "nice": false, "zero": false}, "axis": {"title": "Loadpull test points", "values": [0, 100, 200, 300, 400, 500, 600, 700]}},
                "y": {"field": "y", "type": "quantitative", "scale": {"domain": [0.038, 0.399], "nice": false, "zero": false}, "axis": {"orient": "left", "title": "DS", "labels": false, "ticks": false, "titleFontSize": 8, "titleAngle": 270, "titleAlign": "left", "titleBaseline": "alphabetic", "titleX": -32.5, "titleY": 84}},
                "color": {"datum": "Measured", "type": "nominal", "legend": {"title": null}},
                "shape": {"datum": "Measured", "type": "nominal", "legend": {"title": null}}
              }
            },
            {
              "mark": {"type": "point", "filled": false, "size": 105, "strokeWidth": 2.4, "opacity": 1},
              "encoding": {
                "x": {"field": "x", "type": "quantitative", "scale": {"domain": [-33, 703], "nice": false, "zero": false}},
                "y": {"field": "m", "type": "quantitative", "scale": {"domain": [0.038, 0.399], "nice": false, "zero": false}, "axis": {"orient": "left", "title": "I", "values": [0.05, 0.1, 0.15, 0.2, 0.25, 0.3, 0.35], "format": ".2f", "labelPadding": 3, "titleFontSize": 13, "titleAngle": 270, "titleAlign": "left", "titleBaseline": "alphabetic", "titleX": -34, "titleY": 92}},
                "color": {"datum": "LSTM Model", "type": "nominal"},
                "shape": {"datum": "LSTM Model", "type": "nominal"}
              }
            },
            {
              "data": {"values": [{}]},
              "mark": {"type": "rect", "fill": "white", "stroke": "#222", "strokeWidth": 1},
              "encoding": {
                "x": {"datum": -25, "type": "quantitative", "scale": {"domain": [-33, 703], "nice": false, "zero": false}},
                "x2": {"datum": 201},
                "y": {"datum": 0.3911, "type": "quantitative", "scale": {"domain": [0.038, 0.399], "nice": false, "zero": false}, "axis": {"orient": "left", "title": "(A)", "labels": false, "ticks": false, "titleFontSize": 13, "titleAngle": 270, "titleAlign": "left", "titleBaseline": "alphabetic", "titleX": -34, "titleY": 77}},
                "y2": {"datum": 0.3514}
              }
            },
            {
              "data": {"values": [{}]},
              "mark": {"type": "text", "font": "Liberation Sans", "fontSize": 15, "color": "#111", "align": "center", "baseline": "middle"},
              "encoding": {
                "x": {"datum": 88, "type": "quantitative", "scale": {"domain": [-33, 703], "nice": false, "zero": false}},
                "y": {"datum": 0.3711, "type": "quantitative", "scale": {"domain": [0.038, 0.399], "nice": false, "zero": false}, "axis": null},
                "text": {"value": "20 dBm"}
              }
            }
          ]
        }
      ],
      "spacing": 15
    },
    {
      "width": 238, "height": 151,
      "data": {"name": "p25"},
      "resolve": {"scale": {"y": "independent"}},
      "layer": [
        {
          "mark": {"type": "point", "filled": false, "size": 42, "strokeWidth": 1.7, "opacity": 1},
          "encoding": {
            "x": {"field": "x", "type": "quantitative", "scale": {"domain": [-33, 703], "nice": false, "zero": false}, "axis": {"title": "Loadpull test points", "values": [0, 100, 200, 300, 400, 500, 600, 700]}},
            "y": {"field": "y", "type": "quantitative", "scale": {"domain": [0.079, 0.680], "nice": false, "zero": false}, "axis": {"orient": "left", "title": "DS", "labels": false, "ticks": false, "titleFontSize": 8, "titleAngle": 270, "titleAlign": "left", "titleBaseline": "alphabetic", "titleX": -25.5, "titleY": 92}},
            "color": {"datum": "Measured", "type": "nominal", "legend": {"title": null}},
            "shape": {"datum": "Measured", "type": "nominal", "legend": {"title": null}}
          }
        },
        {
          "mark": {"type": "point", "filled": false, "size": 105, "strokeWidth": 2.4, "opacity": 1},
          "encoding": {
            "x": {"field": "x", "type": "quantitative", "scale": {"domain": [-33, 703], "nice": false, "zero": false}},
            "y": {"field": "m", "type": "quantitative", "scale": {"domain": [0.079, 0.680], "nice": false, "zero": false}, "axis": {"orient": "left", "title": "I", "values": [0.1, 0.2, 0.3, 0.4, 0.5, 0.6], "format": ".1f", "labelPadding": 3, "titleFontSize": 13, "titleAngle": 270, "titleAlign": "left", "titleBaseline": "alphabetic", "titleX": -27, "titleY": 100}},
            "color": {"datum": "LSTM Model", "type": "nominal"},
            "shape": {"datum": "LSTM Model", "type": "nominal"}
          }
        },
        {
          "data": {"values": [{}]},
          "mark": {"type": "rect", "fill": "white", "stroke": "#222", "strokeWidth": 1},
          "encoding": {
            "x": {"datum": -20, "type": "quantitative", "scale": {"domain": [-33, 703], "nice": false, "zero": false}},
            "x2": {"datum": 199},
            "y": {"datum": 0.6665, "type": "quantitative", "scale": {"domain": [0.079, 0.680], "nice": false, "zero": false}, "axis": {"orient": "left", "title": "(A)", "labels": false, "ticks": false, "titleFontSize": 13, "titleAngle": 270, "titleAlign": "left", "titleBaseline": "alphabetic", "titleX": -27, "titleY": 83}},
            "y2": {"datum": 0.600}
          }
        },
        {
          "data": {"values": [{}]},
          "mark": {"type": "text", "font": "Liberation Sans", "fontSize": 15, "color": "#111", "align": "center", "baseline": "middle"},
          "encoding": {
            "x": {"datum": 90, "type": "quantitative", "scale": {"domain": [-33, 703], "nice": false, "zero": false}},
            "y": {"datum": 0.633, "type": "quantitative", "scale": {"domain": [0.079, 0.680], "nice": false, "zero": false}, "axis": null},
            "text": {"value": "25 dBm"}
          }
        }
      ]
    }
  ],
  "spacing": 0,
  "center": true
}
